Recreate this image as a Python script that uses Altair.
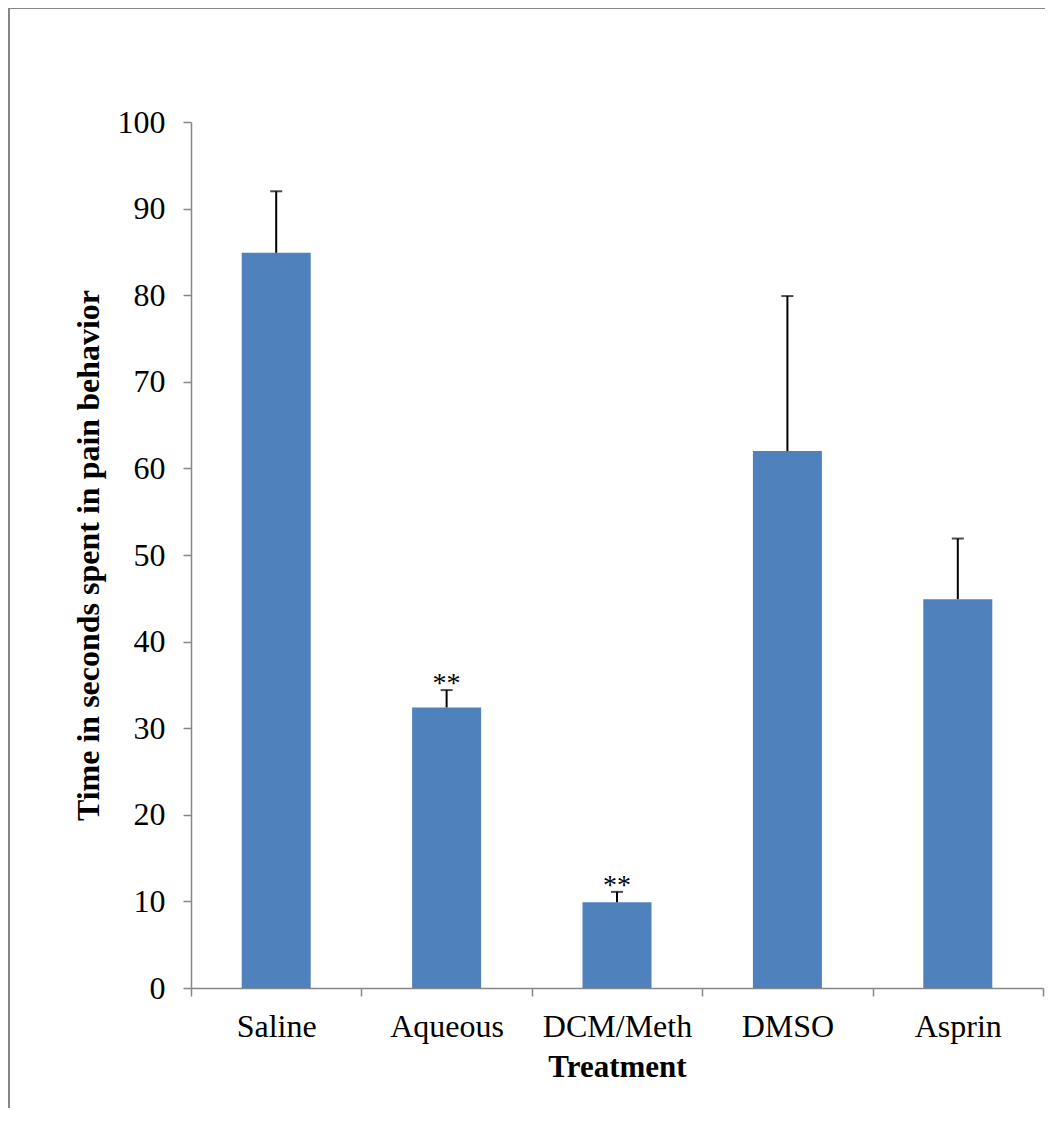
import altair as alt
import pandas as pd

categories = ["Saline", "Aqueous", "DCM/Meth", "DMSO", "Asprin"]
means = [84.9, 32.4, 9.9, 62.0, 44.9]
errors = [7.1, 2.0, 1.2, 17.9, 7.0]
stars = ["", "**", "**", "", ""]

df = pd.DataFrame({
    "Treatment": categories,
    "mean": means,
    "upper": [m + e for m, e in zip(means, errors)],
    "star": stars,
})

BLUE = "#4F81BD"
GREY = "#868686"
FONT = "Liberation Serif"

x_enc = alt.X(
    "Treatment:N",
    sort=categories,
    scale=alt.Scale(paddingInner=0, paddingOuter=0),
    axis=alt.Axis(
        title="Treatment",
        labelAngle=0,
        tickBand="extent",
        labelPadding=15,
        titlePadding=10,
    ),
)
y_scale = alt.Scale(domain=[0, 100], nice=False)

base = alt.Chart(df)

bars = base.mark_bar(color=BLUE, size=69).encode(
    x=x_enc,
    y=alt.Y(
        "mean:Q",
        scale=y_scale,
        axis=alt.Axis(
            title="Time in seconds spent in pain behavior",
            values=list(range(0, 101, 10)),
            grid=False,
            labelPadding=18,
            titlePadding=12,
            titleFontSize=32,
        ),
    ),
)

err_line = base.mark_rule(color="black", strokeWidth=2).encode(
    x=alt.X("Treatment:N", sort=categories),
    y=alt.Y("mean:Q", scale=y_scale),
    y2="upper:Q",
)

err_cap = base.mark_tick(color="black", size=12, thickness=2, orient="horizontal").encode(
    x=alt.X("Treatment:N", sort=categories),
    y=alt.Y("upper:Q", scale=y_scale),
)

star_text = base.mark_text(
    font=FONT, fontSize=28, color="black", baseline="alphabetic", dy=2
).encode(
    x=alt.X("Treatment:N", sort=categories),
    y=alt.Y("upper:Q", scale=y_scale),
    text="star:N",
)

frame_data = alt.Data(values=[{"k": 1}])
frame_top = alt.Chart(frame_data).mark_rule(color=GREY, strokeWidth=2).encode(
    x=alt.value(-182), x2=alt.value(900), y=alt.value(-114)
)
frame_left = alt.Chart(frame_data).mark_rule(color=GREY, strokeWidth=2).encode(
    x=alt.value(-182), y=alt.value(-114), y2=alt.value(1100)
)

chart = (
    alt.layer(bars, err_line, err_cap, star_text, frame_top, frame_left)
    .properties(
        width=852,
        height=866,
        autosize=alt.AutoSizeParams(type="none"),
        padding={"left": 183, "top": 114, "right": 2, "bottom": 120},
        background="white",
    )
    .configure_view(stroke=None)
    .configure_axis(
        labelFont=FONT,
        labelFontSize=32,
        labelColor="black",
        titleFont=FONT,
        titleFontSize=31,
        titleFontWeight="bold",
        titleColor="black",
        domainColor=GREY,
        domainWidth=1.5,
        tickColor=GREY,
        tickWidth=1.5,
        tickSize=8,
    )
)

chart.save("out.html", embed_options={"renderer": "svg", "actions": False})
